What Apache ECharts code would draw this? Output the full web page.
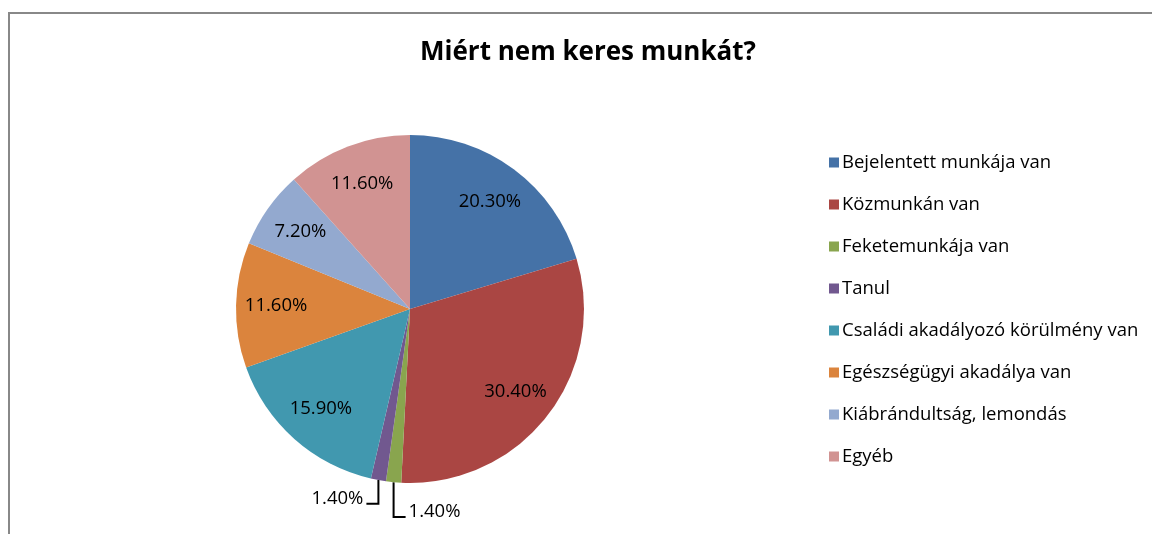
<!DOCTYPE html>
<html>
<head>
<meta charset="utf-8">
<script src="https://cdn.jsdelivr.net/npm/echarts@6/dist/echarts.min.js"></script>
<style>
html,body{margin:0;padding:0;background:#fff;}
#chart{width:1152px;height:534px;}
</style>
</head>
<body>
<div id="chart"></div>
<script>
var titleText = 'Miért nem keres munkát?';
var categories = ['Bejelentett munkája van','Közmunkán van','Feketemunkája van','Tanul','Családi akadályozó körülmény van','Egészségügyi akadálya van','Kiábrándultság, lemondás','Egyéb'];
var values = [20.3, 30.4, 1.4, 1.4, 15.9, 11.6, 7.2, 11.6];
var colors = ['#4572A7','#AA4643','#89A54E','#71588F','#4198AF','#DB843D','#93A9CF','#D19392'];
var smallSlices = ['Feketemunkája van','Tanul'];
var flipRight = ['Feketemunkája van'];

var FONT = 'Open Sans';
var chart = echarts.init(document.getElementById('chart'));

function fmt(p){ return p.value.toFixed(2) + '%'; }

var mainData = categories.map(function(c,i){
  var small = smallSlices.indexOf(c) >= 0;
  var d = {name:c, value:values[i], itemStyle:{color:colors[i]}};
  if (small) {
    d.label = {show:true, position:'outside'};
    d.labelLine = {show:true, length: c === 'Tanul' ? 24 : 35, length2: 12};
  } else {
    d.label = {show:false};
    d.labelLine = {show:false};
  }
  return d;
});

var overlayData = categories.map(function(c,i){
  var small = smallSlices.indexOf(c) >= 0;
  return {name:c, value:values[i], label:{show:!small}};
});

chart.setOption({
  animation:false,
  color: colors,
  title:{
    text:titleText, left:583, top:35, textAlign:'center',
    textStyle:{fontFamily:FONT, fontWeight:'bold', fontSize:26, color:'#000'}
  },
  legend:{
    orient:'vertical', left:824, top:148, itemGap:23,
    itemWidth:10, itemHeight:10, icon:'rect',
    data: categories,
    textStyle:{fontFamily:FONT, fontSize:18.5, lineHeight:18, color:'#000', padding:[0,0,0,-2]}
  },
  graphic:[{
    type:'rect', shape:{x:9, y:13, width:1160, height:540},
    style:{fill:'none', stroke:'#888', lineWidth:2}, silent:true, z:-1
  }],
  series:[{
    type:'pie', radius:174, center:[410,309], startAngle:90, clockwise:true,
    avoidLabelOverlap:false, silent:true,
    itemStyle:{borderWidth:0},
    label:{formatter:fmt, fontFamily:FONT, fontSize:18.5, color:'#000', distanceToLabelLine:2},
    labelLine:{lineStyle:{color:'#000', width:2}},
    labelLayout:function(p){
      var name = categories[p.dataIndex];
      if (smallSlices.indexOf(name) < 0 || !p.labelLinePoints) return {};
      var pts = p.labelLinePoints.map(function(a){return a.slice();});
      var seg2 = Math.abs(pts[2][0] - pts[1][0]);
      pts[1][0] = pts[0][0];
      var right = flipRight.indexOf(name) >= 0;
      pts[2][0] = pts[1][0] + (right ? seg2 : -seg2);
      pts[2][1] = pts[1][1];
      return {
        x: pts[2][0] + (right ? 3 : -3), y: pts[2][1] - 5,
        align: right ? 'left' : 'right', verticalAlign:'middle',
        labelLinePoints: pts
      };
    },
    data: mainData
  },{
    type:'pie', radius:[0,262], center:[410,309], startAngle:90, clockwise:true,
    silent:true, avoidLabelOverlap:false,
    itemStyle:{color:'rgba(0,0,0,0)', borderWidth:0},
    label:{position:'inside', formatter:fmt, fontFamily:FONT, fontSize:18.5, color:'#000'},
    labelLine:{show:false},
    emphasis:{disabled:true},
    data: overlayData
  }]
});
</script>
</body>
</html>
